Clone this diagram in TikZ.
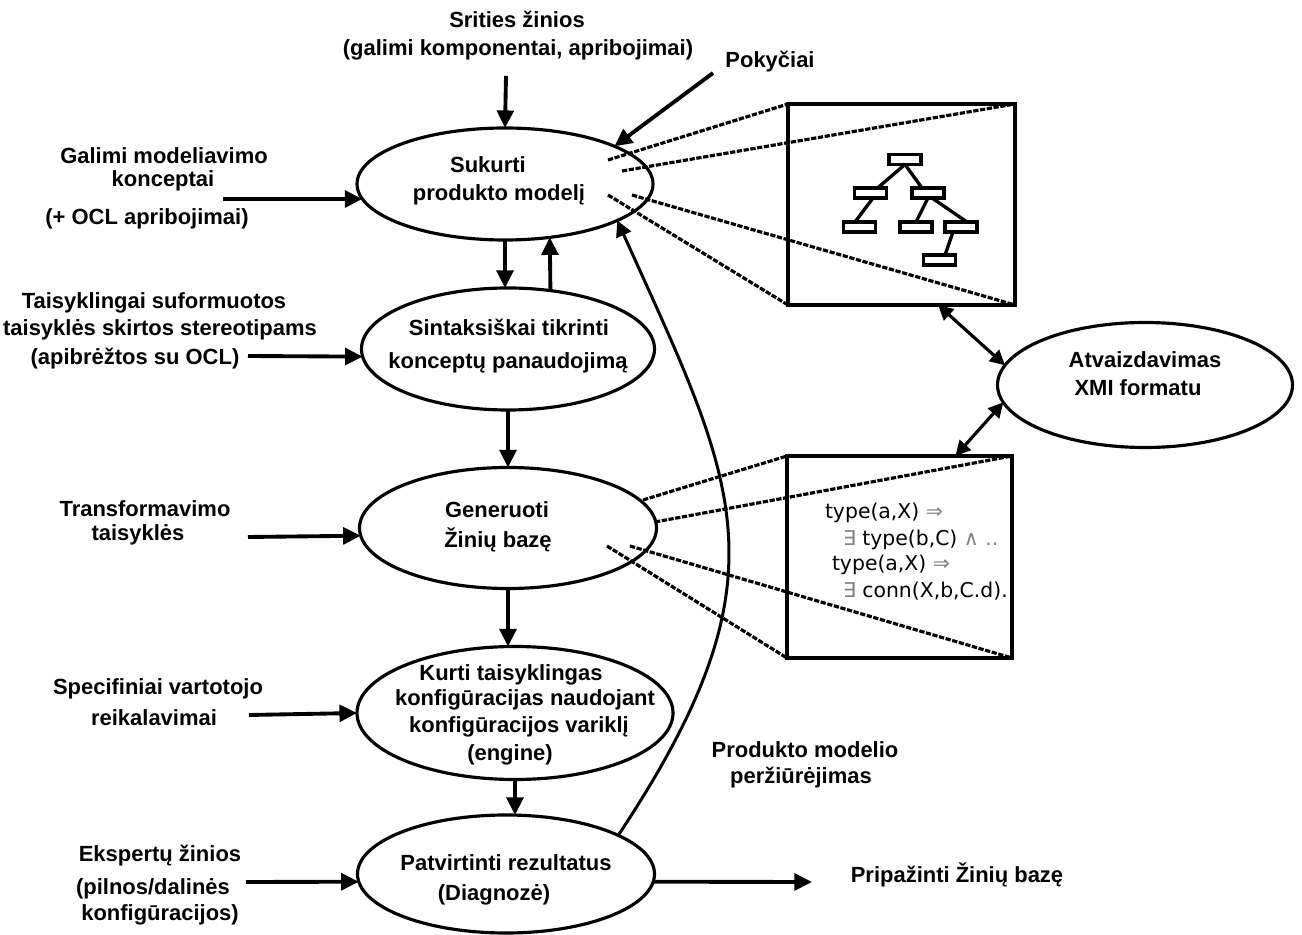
\documentclass[tikz,border=0pt]{standalone}
\usepackage{fontspec}
\setmainfont{Liberation Sans}
\newfontfamily\formulafont{DejaVu Sans}
\usetikzlibrary{arrows.meta,shapes.geometric,calc}

\begin{document}
\begin{tikzpicture}[x=0.02cm,y=-0.02cm,
  every node/.style={inner sep=0pt, outer sep=0pt},
  esize/.style 2 args={minimum width=#1*0.02cm, minimum height=#2*0.02cm},
  proc/.style={ellipse, draw, line width=1.8pt},
  lbl/.style={font=\fontsize{12.5}{14}\selectfont\bfseries, text height=9pt, text depth=2.5pt},
  ftxt/.style={anchor=west, font=\formulafont\fontsize{11.6}{14}\selectfont, text height=9pt, text depth=2.5pt},
  flow/.style={line width=2.2pt, -{Triangle[length=10pt,width=9.5pt]}},
  dbl/.style={line width=1.8pt, {Triangle[length=8.5pt,width=8.5pt]}-{Triangle[length=8.5pt,width=8.5pt]}},
  back/.style={line width=1.7pt, -{Triangle[length=9pt,width=9pt]}},
  viewbox/.style={draw, line width=1.9pt},
  dline/.style={line width=1.8pt, dash pattern=on 3pt off 0.9pt},
  tnode/.style={draw, line width=1.9pt, minimum width=0.64cm, minimum height=0.2cm},
  tedge/.style={line width=1.9pt}
]
\useasboundingbox (0,0) rectangle (1302,935);

% process ellipses
\node[proc, esize={296}{112}] (suk) at (505,184) {};
\node[proc, esize={293}{122}] (sin) at (508,349) {};
\node[proc, esize={297}{121}] (gen) at (508,528) {};
\node[proc, esize={316}{133}] (kur) at (515,713) {};
\node[proc, esize={297}{118}] (pat) at (506,874) {};
\node[proc, esize={295}{125}] (atv) at (1145,385) {};

% texts inside the ellipses
\node[lbl] (suk1) at (488,167) {Sukurti};
\node[lbl] (suk2) at (499,195) {produkto modelį};
\node[lbl] (sin1) at (509,330) {Sintaksiškai tikrinti};
\node[lbl] (sin2) at (508,363) {konceptų panaudojimą};
\node[lbl] (gen1) at (497,512) {Generuoti};
\node[lbl] (gen2) at (498,542) {Žinių bazę};
\node[lbl] (kur1) at (511,675) {Kurti taisyklingas};
\node[lbl] (kur2) at (525,700) {konfigūracijas naudojant};
\node[lbl] (kur3) at (519,727) {konfigūracijos variklį};
\node[lbl] (kur4) at (510,755) {(engine)};
\node[lbl] (pat1) at (506,865) {Patvirtinti rezultatus};
\node[lbl] (pat2) at (494,895) {(Diagnozė)};
\node[lbl] (atv1) at (1145,362) {Atvaizdavimas};
\node[lbl] (atv2) at (1138,390) {XMI formatu};

% inputs and outputs
\node[lbl] (sri1) at (517,22) {Srities žinios};
\node[lbl] (sri2) at (518,50) {(galimi komponentai, apribojimai)};
\node[lbl] (pok) at (770,62) {Pokyčiai};
\node[lbl] (gal1) at (164,158) {Galimi modeliavimo};
\node[lbl] (gal2) at (163,181) {konceptai};
\node[lbl] (gal3) at (147,219) {(+ OCL apribojimai)};
\node[lbl] (tai1) at (154,303) {Taisyklingai suformuotos};
\node[lbl] (tai2) at (160,330) {taisyklės skirtos stereotipams};
\node[lbl] (tai3) at (135,359) {(apibrėžtos su OCL)};
\node[lbl] (tra1) at (145,511) {Transformavimo};
\node[lbl] (tra2) at (138,535) {taisyklės};
\node[lbl] (spe1) at (158,689) {Specifiniai vartotojo};
\node[lbl] (spe2) at (154,720) {reikalavimai};
\node[lbl] (eks1) at (160,856) {Ekspertų žinios};
\node[lbl] (eks2) at (153,889) {(pilnos/dalinės};
\node[lbl] (eks3) at (160,915) {konfigūracijos)};
\node[lbl] (per1) at (805,752) {Produkto modelio};
\node[lbl] (per2) at (801,778) {peržiūrėjimas};
\node[lbl] (pri) at (957,877) {Pripažinti Žinių bazę};

% free ends of the input/output arrows
\coordinate (sriA) at (506,76);
\coordinate (pokA) at (713,73);
\coordinate (galA) at (223,199);
\coordinate (taiA) at (248,356);
\coordinate (traA) at (248,537);
\coordinate (speA) at (249,715);
\coordinate (eksA) at (246,882);
\coordinate (priA) at (812,882);

\draw[flow] (sriA) -- (suk.north);
\draw[flow] (pokA) -- (suk.19);
\draw[flow] (galA) -- (suk.186);
\draw[flow] (taiA) -- (sin.183);
\draw[flow] (traA) -- (gen.183.5);
\draw[flow] (speA) -- (kur.180);
\draw[flow] (eksA) -- (pat.183);
\draw[flow] (pat.357) -- (priA);

% main flow
\draw[flow] (suk.south) -- (suk.south |- sin.north);
\draw[flow] (sin.54) -- (suk.-50);
\draw[flow] (sin.south) -- (gen.north);
\draw[flow] (gen.south) -- (gen.south |- kur.north);
\draw[flow] (kur.south) -- (kur.south |- pat.north);

% review loop back to the model
\draw[back] (pat.19) .. controls (791,575) and (737,486) .. (suk.-18);

% views of the model and of the knowledge base
\node[viewbox, esize={227}{201}] (box1) at (901.5,204.5) {};
\node[viewbox, esize={225}{202}] (box2) at (899.5,557) {};

\coordinate (s1) at (608,160);
\coordinate (s2) at (622,171);
\coordinate (s3) at (632,195);
\coordinate (s4) at (608,195);
\draw[dline] (s1) -- (box1.north west);
\draw[dline] (s2) -- (box1.north east);
\draw[dline] (s3) -- (box1.south east);
\draw[dline] (s4) -- (box1.south west);

\coordinate (g1) at (643,500);
\coordinate (g2) at (655,522);
\coordinate (g3) at (630,546);
\coordinate (g4) at (607,546);
\draw[dline] (g1) -- (box2.north west);
\draw[dline] (g2) -- (box2.north east);
\draw[dline] (g3) -- (box2.south east);
\draw[dline] (g4) -- (box2.south west);

% class tree
\node[tnode] (r0) at (905,159.5) {};
\node[tnode] (l1a) at (870.5,193) {};
\node[tnode] (l1b) at (928,193) {};
\node[tnode] (l2a) at (859.5,227) {};
\node[tnode] (l2b) at (916,227) {};
\node[tnode] (l2c) at (961,227) {};
\node[tnode] (l3) at (939.5,260) {};
\draw[tedge] (r0.south) -- ($(l1a.north)+(7,0)$);
\draw[tedge] (r0.south) -- ($(l1b.north)+(-6,0)$);
\draw[tedge] ($(l1a.south)+(2.5,0)$) -- ($(l2a.north)+(-4.5,0)$);
\draw[tedge] (l1b.south) -- (l2b.north);
\draw[tedge] ($(l1b.south)+(4,0)$) -- ($(l2c.north)+(6,0)$);
\draw[tedge] ($(l2c.south)+(-8,0)$) -- ($(l3.north)+(5.5,0)$);

% rules of the knowledge base
\node[ftxt] (f1) at (825,513) {type(a,X) {\color{gray}⇒}};
\node[ftxt] (f2) at (843,540) {{\color{gray}∃} type(b,C) {\color{gray}∧ ..}};
\node[ftxt] (f3) at (832,565) {type(a,X) {\color{gray}⇒}};
\node[ftxt] (f4) at (843,592) {{\color{gray}∃} conn(X,b,C.d).};

% XMI mapping
\draw[dbl] (box1.-70) -- (atv.172);
\draw[dbl] (atv.187) -- (box2.61);

\end{tikzpicture}
\end{document}
